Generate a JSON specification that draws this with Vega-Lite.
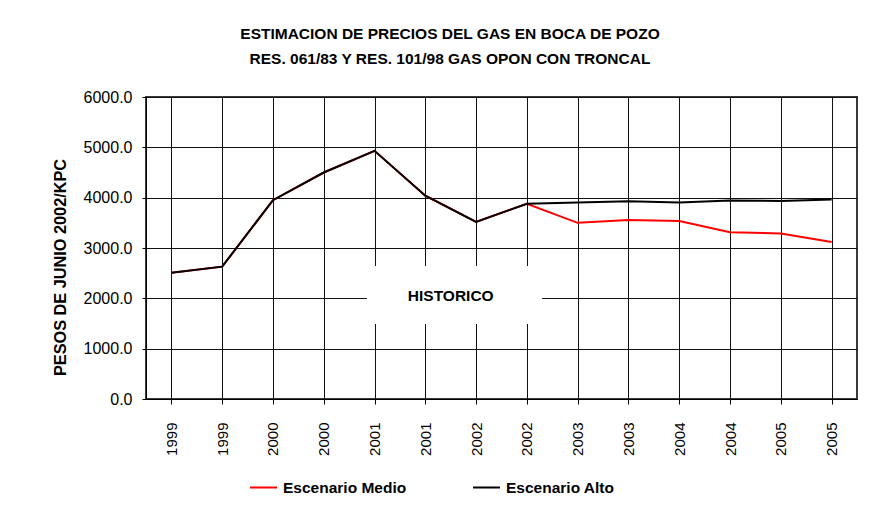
{
  "$schema": "https://vega.github.io/schema/vega-lite/v6.json",
  "width": 711,
  "height": 302,
  "autosize": {"type": "none"},
  "padding": {"left": 146, "top": 97, "right": 31, "bottom": 113},
  "background": "white",
  "config": {
    "font": "Liberation Sans",
    "view": {"stroke": "#3a3a3a", "strokeWidth": 2}
  },
  "title": {
    "text": ["ESTIMACION DE PRECIOS DEL GAS EN BOCA DE POZO", "RES. 061/83 Y RES. 101/98 GAS OPON CON TRONCAL"],
    "font": "Liberation Sans",
    "fontSize": 15.5,
    "fontWeight": "bold",
    "color": "black",
    "anchor": "middle",
    "frame": "group",
    "lineHeight": 25,
    "offset": 22,
    "dx": -51.5
  },
  "datasets": {
    "precios": [
      {"periodo": "1999-1", "escenario": "Escenario Medio", "precio": 2510},
      {"periodo": "1999-2", "escenario": "Escenario Medio", "precio": 2630},
      {"periodo": "2000-1", "escenario": "Escenario Medio", "precio": 3950},
      {"periodo": "2000-2", "escenario": "Escenario Medio", "precio": 4500},
      {"periodo": "2001-1", "escenario": "Escenario Medio", "precio": 4930},
      {"periodo": "2001-2", "escenario": "Escenario Medio", "precio": 4040},
      {"periodo": "2002-1", "escenario": "Escenario Medio", "precio": 3520},
      {"periodo": "2002-2", "escenario": "Escenario Medio", "precio": 3880},
      {"periodo": "2003-1", "escenario": "Escenario Medio", "precio": 3500},
      {"periodo": "2003-2", "escenario": "Escenario Medio", "precio": 3555},
      {"periodo": "2004-1", "escenario": "Escenario Medio", "precio": 3535},
      {"periodo": "2004-2", "escenario": "Escenario Medio", "precio": 3315},
      {"periodo": "2005-1", "escenario": "Escenario Medio", "precio": 3290},
      {"periodo": "2005-2", "escenario": "Escenario Medio", "precio": 3120},
      {"periodo": "1999-1", "escenario": "Escenario Alto", "precio": 2510},
      {"periodo": "1999-2", "escenario": "Escenario Alto", "precio": 2630},
      {"periodo": "2000-1", "escenario": "Escenario Alto", "precio": 3950},
      {"periodo": "2000-2", "escenario": "Escenario Alto", "precio": 4500},
      {"periodo": "2001-1", "escenario": "Escenario Alto", "precio": 4930},
      {"periodo": "2001-2", "escenario": "Escenario Alto", "precio": 4040},
      {"periodo": "2002-1", "escenario": "Escenario Alto", "precio": 3520},
      {"periodo": "2002-2", "escenario": "Escenario Alto", "precio": 3880},
      {"periodo": "2003-1", "escenario": "Escenario Alto", "precio": 3905},
      {"periodo": "2003-2", "escenario": "Escenario Alto", "precio": 3930},
      {"periodo": "2004-1", "escenario": "Escenario Alto", "precio": 3905},
      {"periodo": "2004-2", "escenario": "Escenario Alto", "precio": 3945},
      {"periodo": "2005-1", "escenario": "Escenario Alto", "precio": 3935},
      {"periodo": "2005-2", "escenario": "Escenario Alto", "precio": 3965}
    ],
    "anotacion": [
      {"etiqueta": "HISTORICO"}
    ]
  },
  "resolve": {"scale": {"x": "independent"}, "axis": {"x": "independent"}},
  "layer": [
    {
      "data": {"name": "precios"},
      "mark": {"type": "line", "strokeWidth": 2},
      "encoding": {
        "x": {
          "field": "periodo",
          "type": "ordinal",
          "sort": null,
          "scale": {"paddingInner": 0, "paddingOuter": 0},
          "axis": {
            "title": null,
            "labelExpr": "substring(datum.label, 0, 4)",
            "labelAngle": 270,
            "labelFont": "Liberation Sans",
            "labelFontSize": 15,
            "labelColor": "black",
            "labelPadding": 18,
            "bandPosition": 0,
            "grid": true,
            "gridColor": "#111",
            "gridOpacity": 1,
            "gridWidth": 1,
            "ticks": true,
            "tickSize": 5,
            "tickColor": "black",
            "domain": true,
            "domainColor": "black",
            "domainWidth": 1
          }
        },
        "y": {
          "field": "precio",
          "type": "quantitative",
          "scale": {"domain": [0, 6000], "nice": false, "zero": true},
          "axis": {
            "title": "PESOS DE JUNIO 2002/KPC",
            "titleFont": "Liberation Sans",
            "titleFontSize": 16.3,
            "titleFontWeight": "bold",
            "titleColor": "black",
            "titleAngle": 270,
            "titleX": -81,
            "titleY": 170,
            "titleAlign": "center",
            "titleBaseline": "alphabetic",
            "values": [0, 1000, 2000, 3000, 4000, 5000, 6000],
            "format": ".1f",
            "labelFont": "Liberation Sans",
            "labelFontSize": 16,
            "labelColor": "black",
            "labelPadding": 10,
            "tickSize": 4,
            "tickColor": "black",
            "grid": true,
            "gridColor": "#111",
            "gridOpacity": 1,
            "gridWidth": 1,
            "domainColor": "black",
            "domainWidth": 1
          }
        },
        "color": {
          "field": "escenario",
          "type": "nominal",
          "scale": {"domain": ["Escenario Medio", "Escenario Alto"], "range": ["#ff0000", "#000000"]},
          "legend": {
            "title": null,
            "orient": "none",
            "direction": "horizontal",
            "legendX": 103,
            "legendY": 376,
            "padding": 0,
            "symbolType": "stroke",
            "symbolSize": 729,
            "symbolStrokeWidth": 2,
            "labelFont": "Liberation Sans",
            "labelFontSize": 15.5,
            "labelFontWeight": "bold",
            "labelColor": "black",
            "labelOffset": 5,
            "columnPadding": 62
          }
        }
      }
    },
    {
      "data": {"name": "anotacion"},
      "mark": {"type": "rect", "fill": "white", "stroke": null},
      "encoding": {
        "x": {"datum": 4.35, "type": "quantitative", "scale": {"domain": [0, 14], "nice": false, "zero": false}, "axis": null},
        "x2": {"datum": 7.8},
        "y": {"datum": 2642, "type": "quantitative"},
        "y2": {"datum": 1490}
      }
    },
    {
      "data": {"name": "anotacion"},
      "mark": {"type": "text", "font": "Liberation Sans", "fontSize": 15.5, "fontWeight": "bold", "color": "black", "align": "center", "baseline": "alphabetic"},
      "encoding": {
        "x": {"datum": 6, "type": "quantitative", "scale": {"domain": [0, 14], "nice": false, "zero": false}, "axis": null},
        "y": {"datum": 1955, "type": "quantitative"},
        "text": {"field": "etiqueta"}
      }
    }
  ]
}
